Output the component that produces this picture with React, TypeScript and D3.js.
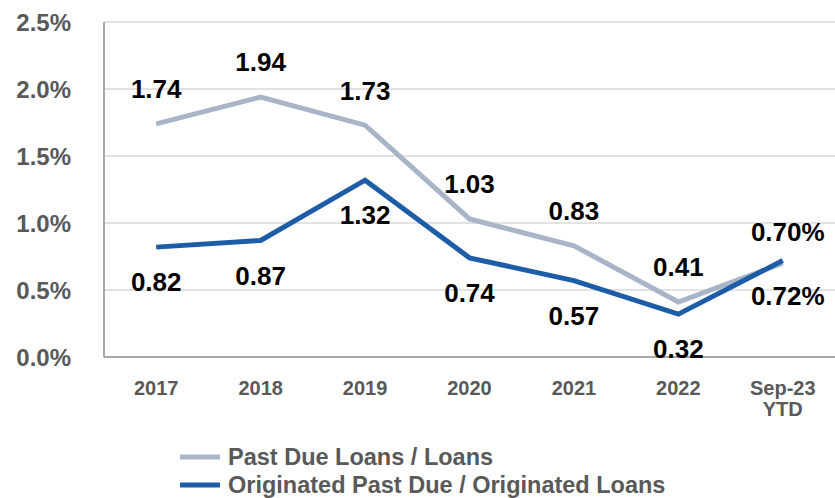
import React from "react";
import * as d3 from "d3";

const categories = ["2017", "2018", "2019", "2020", "2021", "2022", "Sep-23|YTD"];
const pastDue = [1.74, 1.94, 1.73, 1.03, 0.83, 0.41, 0.70];
const originated = [0.82, 0.87, 1.32, 0.74, 0.57, 0.32, 0.72];
const pastDueLabels = ["1.74", "1.94", "1.73", "1.03", "0.83", "0.41", "0.70%"];
const originatedLabels = ["0.82", "0.87", "1.32", "0.74", "0.57", "0.32", "0.72%"];
const yTicks = [0, 0.5, 1.0, 1.5, 2.0, 2.5];
const seriesNames = ["Past Due Loans / Loans", "Originated Past Due / Originated Loans"];

const W = 835, H = 498;
const M = { left: 104, right: 835, top: 22, bottom: 357 };
const GRAY = "#A9B4C8";
const BLUE = "#1D5CA7";
const FONT = "'Liberation Sans', Arial, sans-serif";

export default function App() {
  const x = d3.scaleBand<string>().domain(categories).range([M.left, M.right]);
  const y = d3.scaleLinear().domain([0, 2.5]).range([M.bottom, M.top]);
  const cx = (i: number) => (x(categories[i]) as number) + x.bandwidth() / 2;
  const line = d3.line<number>().x((_, i) => cx(i)).y((d) => y(d));

  return (
    <svg width={W} height={H} style={{ position: "absolute", left: 0, top: 0 }} fontFamily={FONT}>
      <rect width={W} height={H} fill="#fff" />
      {yTicks.slice(1).map((t) => (
        <line key={t} x1={M.left} x2={M.right} y1={y(t)} y2={y(t)} stroke="#D9D9D9" strokeWidth={1.5} />
      ))}
      <line x1={M.left} x2={M.left} y1={M.top} y2={M.bottom} stroke="#8C8C8C" strokeWidth={1.5} />
      <line x1={M.left} x2={M.right} y1={M.bottom} y2={M.bottom} stroke="#8C8C8C" strokeWidth={1.5} />
      {yTicks.map((t) => (
        <text key={t} x={71} y={y(t)} dy="0.36em" textAnchor="end" fontSize={24} fontWeight="bold" fill="#595959">
          {t.toFixed(1) + "%"}
        </text>
      ))}
      {categories.map((c, i) => {
        const parts = c.split("|");
        return parts.map((s, j) => (
          <text key={c + j} x={cx(i)} y={395 + j * 21} textAnchor="middle" fontSize={20} fontWeight="bold" fill="#595959">
            {s}
          </text>
        ));
      })}
      <path d={line(pastDue) || ""} fill="none" stroke={GRAY} strokeWidth={5} />
      <path d={line(originated) || ""} fill="none" stroke={BLUE} strokeWidth={5} />
      {pastDue.map((v, i) => (
        <text key={"p" + i} x={cx(i) + (i === 6 ? 5 : 0)} y={y(v) - (i === 6 ? 32 : 35)} dy="0.36em" textAnchor="middle" fontSize={26} fontWeight="bold" fill="#000">
          {pastDueLabels[i]}
        </text>
      ))}
      {originated.map((v, i) => (
        <text key={"o" + i} x={cx(i) + (i === 6 ? 5 : 0)} y={y(v) + 35} dy="0.36em" textAnchor="middle" fontSize={26} fontWeight="bold" fill="#000">
          {originatedLabels[i]}
        </text>
      ))}
      {seriesNames.map((s, i) => (
        <g key={s}>
          <line x1={180} x2={220} y1={457 + i * 28} y2={457 + i * 28} stroke={i === 0 ? GRAY : BLUE} strokeWidth={5} />
          <text x={228} y={457 + i * 28} dy="0.36em" fontSize={23.5} fontWeight="bold" fill="#595959">{s}</text>
        </g>
      ))}
    </svg>
  );
}
